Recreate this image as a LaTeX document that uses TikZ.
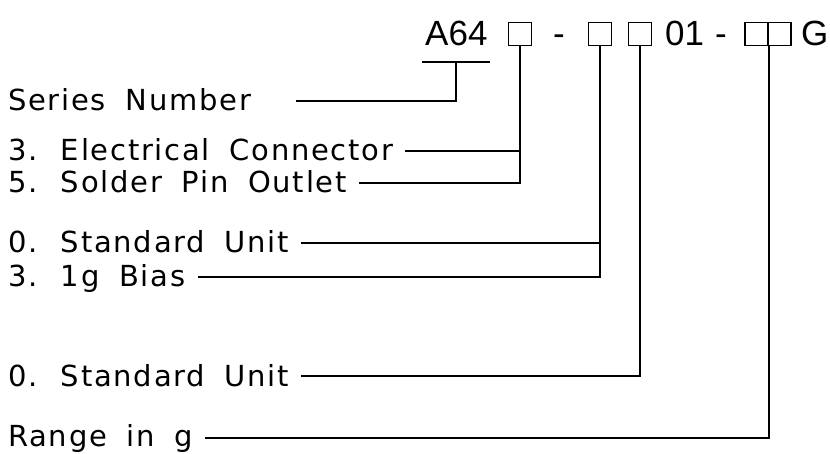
\documentclass[tikz,border=0pt]{standalone}
\usepackage{fontspec}
\setmainfont{Liberation Sans}
\newfontfamily\labfont[LetterSpace=6,WordSpace=1.8]{DejaVu Sans}
\usepackage{tikz}
\usetikzlibrary{positioning}

\begin{document}
\begin{tikzpicture}[x=1pt, y=-1pt,
		codebox/.style={draw, line width=1.5pt, minimum width=23pt, minimum height=23pt, inner sep=0pt},
		codetxt/.style={anchor=base west, inner sep=0pt, font=\fontsize{35}{35}\selectfont},
		optlab/.style={anchor=base west, inner sep=0pt, font=\labfont\fontsize{29}{29}\selectfont},
		lead/.style={line width=1.6pt}]
			
			\useasboundingbox (0,0) rectangle (830,454);
			
			% Il codice del modello in alto
			\node[codetxt] (a64) at (425,46) {A64};
			\node[codebox] (b1) at (520,34) {};
			\node[codetxt] (d1) at (553,46) {-};
			\node[codebox] (b2) at (600,34) {};
			\node[codebox] (b3) at (640,34) {};
			\node[codetxt] (n01) at (665,46) {01};
			\node[codetxt] (d2) at (715,46) {-};
			\node[codebox] (b4a) at (756.5,34) {};
			\node[codebox] (b4b) at (779.5,34) {};
			\node[codetxt] (g) at (801,46) {G};
			
			% Linea sotto A64
			\coordinate (ulL) at (422,62);
			\coordinate (ulM) at (456,62);
			\coordinate (ulR) at (490,62);
			\draw[lead] (ulL) -- (ulR);
			
			% Le voci a sinistra
			\node[optlab] (ser) at (8,111) {Series Number};
			\node[optlab] (elec) at (8,161) {3. Electrical Connector};
			\node[optlab] (sold) at (8,193) {5. Solder Pin Outlet};
			\node[optlab] (std1) at (8,253) {0. Standard Unit};
			\node[optlab] (bias) at (8,287) {3. 1g Bias};
			\node[optlab] (std2) at (8,386) {0. Standard Unit};
			\node[optlab] (rng) at (8,446) {Range in g};
			
			% Le linee di richiamo
			\draw[lead] ([xshift=45pt,yshift=10pt]ser.base east) -| (ulM);
			\draw[lead] ([xshift=12pt,yshift=10pt]elec.base east) -- ([yshift=10pt]elec.base -| b1.south);
			\draw[lead] ([xshift=12pt,yshift=10pt]sold.base east) -| (b1.south);
			\draw[lead] ([xshift=12pt,yshift=10pt]std1.base east) -- ([yshift=10pt]std1.base -| b2.south);
			\draw[lead] ([xshift=12pt,yshift=10pt]bias.base east) -| (b2.south);
			\draw[lead] ([xshift=12pt,yshift=10pt]std2.base east) -| (b3.south);
			\draw[lead] ([xshift=12pt,yshift=8pt]rng.base east) -| (b4a.south east);
			
		\end{tikzpicture}
\end{document}
